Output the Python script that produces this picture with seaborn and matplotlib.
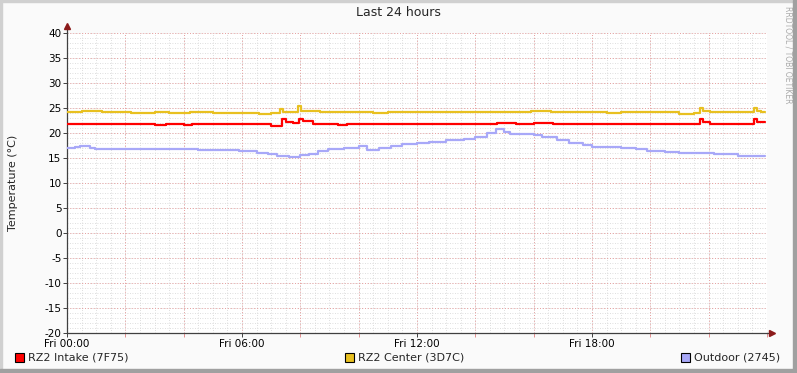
import numpy as np
import pandas as pd
import matplotlib
matplotlib.use("Agg")
import matplotlib.pyplot as plt
import seaborn as sns
from matplotlib.patches import Rectangle
from matplotlib.ticker import MultipleLocator

# Step breakpoints, hours since Fri 00:00 -> temperature (degC)
intake_hours = [0, 3.0, 3.4, 4.0, 4.3, 7.0, 7.37, 7.5, 7.75, 7.95, 8.1, 8.45, 9.3, 9.6,
                11.2, 11.5, 12.5, 12.8, 14.75, 15.4, 16.0, 16.65, 19.5, 20.2, 21.7, 21.8,
                22.05, 23.55, 23.65, 23.93]
intake_temp = [21.8, 21.6, 21.8, 21.6, 21.8, 21.4, 22.9, 22.3, 22.0, 22.9, 22.4, 21.9, 21.7, 21.9,
               21.8, 21.9, 21.8, 21.9, 22.1, 21.9, 22.1, 21.9, 21.8, 21.9, 22.9, 22.2,
               21.9, 22.9, 22.2, 22.2]

center_hours = [0, 0.5, 1.2, 2.2, 3.0, 3.5, 4.2, 5.0, 6.0, 6.6, 7.0, 7.3, 7.4, 7.92, 8.02,
                8.67, 10.5, 11.0, 12.8, 13.8, 15.9, 16.6, 18.5, 19.0, 21.0, 21.5, 21.7, 21.8,
                22.05, 23.55, 23.65, 23.8, 23.93]
center_temp = [24.2, 24.4, 24.2, 24.1, 24.2, 24.0, 24.2, 24.0, 24.1, 23.9, 24.1, 24.9, 24.3, 25.5, 24.4,
               24.2, 24.1, 24.2, 24.3, 24.2, 24.35, 24.2, 24.1, 24.2, 23.8, 24.1, 25.1, 24.5,
               24.2, 25.1, 24.5, 24.2, 24.2]

outdoor_hours = [0, 0.27, 0.45, 0.8, 0.96, 3.0, 4.5, 5.9, 6.5, 6.9, 7.2, 7.6, 8.0, 8.3, 8.6,
                 8.95, 9.5, 10.0, 10.3, 10.7, 11.1, 11.5, 12.0, 12.4, 13.0, 13.6, 14.0, 14.4,
                 14.7, 15.0, 15.2, 16.0, 16.3, 16.8, 17.2, 17.7, 18.0, 19.0, 19.5, 19.9, 20.5,
                 21.0, 22.2, 23.0, 23.93]
outdoor_temp = [17.0, 17.2, 17.4, 17.0, 16.8, 16.8, 16.7, 16.4, 16.1, 15.8, 15.5, 15.3, 15.6, 15.9, 16.5,
                16.9, 17.1, 17.4, 16.7, 17.0, 17.5, 17.8, 18.0, 18.3, 18.6, 18.8, 19.3, 20.1,
                20.8, 20.2, 19.9, 19.6, 19.3, 18.6, 18.0, 17.6, 17.2, 17.1, 16.8, 16.4, 16.2,
                16.1, 15.8, 15.5, 15.4]

series_names = ["RZ2 Intake (7F75)", "RZ2 Center (3D7C)", "Outdoor (2745)"]
series_colors = ["#FF0000", "#E8C020", "#A8A8F8"]
x_labels = ["Fri 00:00", "Fri 06:00", "Fri 12:00", "Fri 18:00"]

frames = []
for name, hrs, vals in zip(series_names,
                           [intake_hours, center_hours, outdoor_hours],
                           [intake_temp, center_temp, outdoor_temp]):
    frames.append(pd.DataFrame({"hour": hrs, "temp": vals, "series": name}))
df = pd.concat(frames, ignore_index=True)

sns.set_style("white")
plt.rcParams["font.family"] = ["DejaVu Sans"]
plt.rcParams["axes.unicode_minus"] = False

W, H = 797, 373
fig = plt.figure(figsize=(W / 100, H / 100), dpi=100, facecolor="#FAFAFA")
ax = fig.add_axes([67 / W, (H - 333) / H, 700 / W, 300 / H])
ax.set_facecolor("white")

# grid
for h in np.arange(0, 24.01, 0.5):
    ax.axvline(h, color="#D4D4D4", lw=0.6, ls=(0, (1, 2)), zorder=0)
for t in range(-20, 41):
    ax.axhline(t, color="#D4D4D4", lw=0.6, ls=(0, (1, 2)), zorder=0)
for h in range(0, 25, 2):
    ax.axvline(h, color="#E8A0A0", lw=0.7, ls=(0, (1, 2)), zorder=0)
for t in range(-20, 41, 5):
    ax.axhline(t, color="#E8A0A0", lw=0.7, ls=(0, (1, 2)), zorder=0)

sns.lineplot(data=df, x="hour", y="temp", hue="series", palette=series_colors,
             drawstyle="steps-post", linewidth=1.6, legend=False, ax=ax, zorder=3)

ax.set_xlim(0, 24)
ax.set_ylim(-20, 40)
ax.set_xticks([0, 6, 12, 18])
ax.set_xticklabels(x_labels)
ax.xaxis.set_minor_locator(MultipleLocator(2))
ax.set_yticks(range(-20, 41, 5))
ax.tick_params(axis="both", labelsize=7.5, colors="#000000", length=3, width=0.7, pad=1)
ax.tick_params(axis="x", which="minor", length=3, color="#E08080", bottom=True)
ax.tick_params(axis="x", which="major", bottom=True, color="#404040")
ax.tick_params(axis="y", left=True, color="#404040")
ax.set_xlabel("")
ax.set_ylabel("Temperature (°C)", fontsize=8)
ax.yaxis.set_label_coords(-49 / 700, 0.5)

for s in ["top", "right"]:
    ax.spines[s].set_visible(False)
for s in ["left", "bottom"]:
    ax.spines[s].set_color("#404040")
    ax.spines[s].set_linewidth(0.9)
# axis arrows
ax.plot([0, 0], [1, 1.025], color="#404040", lw=0.9, transform=ax.transAxes, clip_on=False)
ax.plot([0], [1.025], marker="^", color="#8B1A1A", ms=5, transform=ax.transAxes, clip_on=False)
ax.plot([1, 1.007], [0, 0], color="#404040", lw=0.9, transform=ax.transAxes, clip_on=False)
ax.plot([1.007], [0], marker=">", color="#8B1A1A", ms=5, transform=ax.transAxes, clip_on=False)

fig.text(398 / W, 1 - 13 / H, "Last 24 hours", ha="center", va="center", fontsize=9)
fig.text(788 / W, 1 - 6 / H, "RRDTOOL / TOBI OETIKER", rotation=-90, ha="center", va="top",
         fontsize=5.5, color="#AAAAAA")

# legend
legend_x = [15, 345, 681]
for x0, name, col in zip(legend_x, series_names, series_colors):
    fig.patches.append(Rectangle((x0 / W, 1 - 362 / H), 9 / W, 9 / H, transform=fig.transFigure,
                                 facecolor=col, edgecolor="black", lw=0.8))
    fig.text((x0 + 13) / W, 1 - 358 / H, name, ha="left", va="center", fontsize=8)

# frame shading
fig.patches.append(Rectangle((0, 0), 2 / W, 1, transform=fig.transFigure, color="#D0D0D0"))
fig.patches.append(Rectangle((0, 1 - 2 / H), 1, 2 / H, transform=fig.transFigure, color="#D0D0D0"))
fig.patches.append(Rectangle((1 - 4 / W, 0), 4 / W, 1, transform=fig.transFigure, color="#A0A0A0"))
fig.patches.append(Rectangle((0, 0), 1, 4 / H, transform=fig.transFigure, color="#A0A0A0"))

fig.savefig("out.png", dpi=100, facecolor=fig.get_facecolor())
